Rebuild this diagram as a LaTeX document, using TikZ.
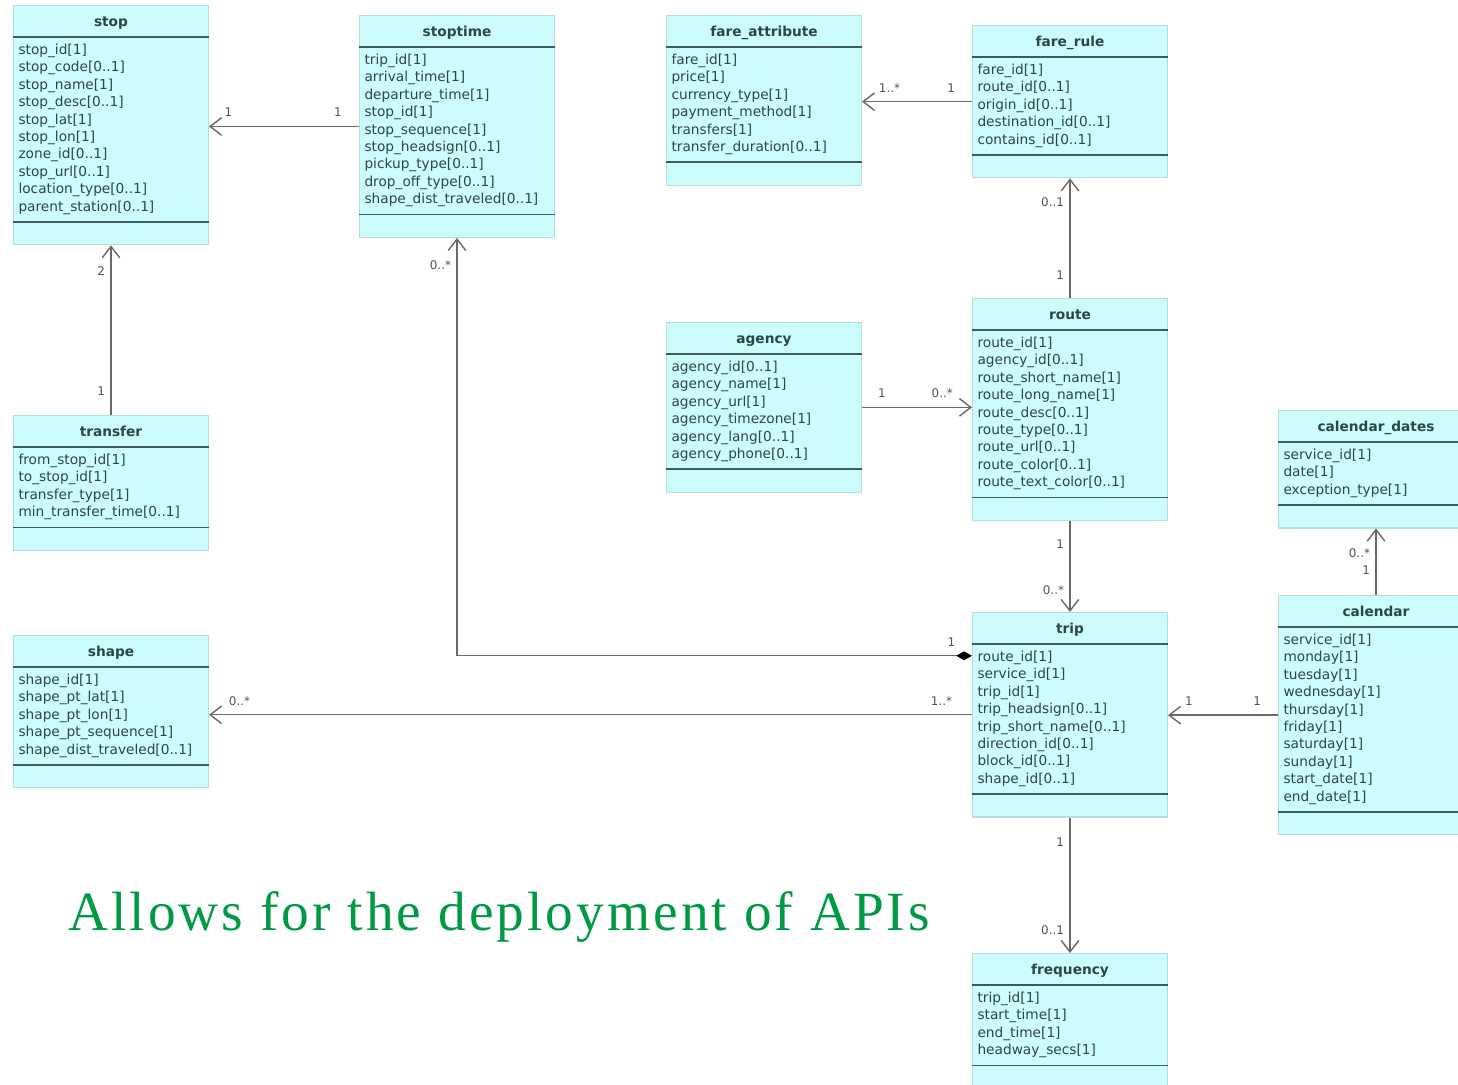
\documentclass[tikz,border=0pt]{standalone}
\usepackage{fontspec}
\setmainfont{DejaVu Sans}
\newfontfamily\bannerfont[LetterSpace=5.5]{Liberation Serif}
\usetikzlibrary{shapes.multipart,arrows.meta}

\definecolor{clsfill}{RGB}{204,252,252}
\definecolor{clsedge}{RGB}{178,222,222}
\definecolor{clsrule}{RGB}{62,92,92}
\definecolor{clstext}{RGB}{44,70,72}
\definecolor{linkgray}{RGB}{105,105,105}
\definecolor{bannergreen}{RGB}{0,153,68}

\newcommand{\ttl}[1]{\makebox[3.7cm][c]{\rule[-2.6pt]{0pt}{11.5pt}\textbf{#1}}}
\newcommand{\foot}{\rule{0pt}{6.8pt}}

\tikzset{
  cls/.style={rectangle split, rectangle split parts=3, anchor=north west,
    text width=3.7cm, inner xsep=0.1cm, inner ysep=0.1cm, align=left,
    fill=clsfill, draw=clsedge, line width=0.6pt, text=clstext,
    font=\fontsize{7.8}{9.9}\selectfont},
  assoc/.style={draw=linkgray, line width=0.8pt, -{Straight Barb[length=6.5pt,width=10pt]}},
  mult/.style={font=\fontsize{6.8}{8}\selectfont, text=linkgray!80!black, inner sep=1pt},
}

\begin{document}
\begin{tikzpicture}[x=0.02cm, y=-0.02cm]
\clip (0,0) rectangle (1458,1085);
\fill[white] (0,0) rectangle (1458,1085);

% classes
\node[cls] (stop) at (13,5) {\ttl{stop}
  \nodepart{second}\strut stop\_id[1]\\stop\_code[0..1]\\stop\_name[1]\\stop\_desc[0..1]\\stop\_lat[1]\\stop\_lon[1]\\zone\_id[0..1]\\stop\_url[0..1]\\location\_type[0..1]\\parent\_station[0..1]\strut
  \nodepart{third}\foot};
\node[cls] (stoptime) at (359,15) {\ttl{stoptime}
  \nodepart{second}\strut trip\_id[1]\\arrival\_time[1]\\departure\_time[1]\\stop\_id[1]\\stop\_sequence[1]\\stop\_headsign[0..1]\\pickup\_type[0..1]\\drop\_off\_type[0..1]\\shape\_dist\_traveled[0..1]\strut
  \nodepart{third}\foot};
\node[cls] (fareattr) at (666,15) {\ttl{fare\_attribute}
  \nodepart{second}\strut fare\_id[1]\\price[1]\\currency\_type[1]\\payment\_method[1]\\transfers[1]\\transfer\_duration[0..1]\strut
  \nodepart{third}\foot};
\node[cls] (farerule) at (972,25) {\ttl{fare\_rule}
  \nodepart{second}\strut fare\_id[1]\\route\_id[0..1]\\origin\_id[0..1]\\destination\_id[0..1]\\contains\_id[0..1]\strut
  \nodepart{third}\foot};
\node[cls] (agency) at (666,322) {\ttl{agency}
  \nodepart{second}\strut agency\_id[0..1]\\agency\_name[1]\\agency\_url[1]\\agency\_timezone[1]\\agency\_lang[0..1]\\agency\_phone[0..1]\strut
  \nodepart{third}\foot};
\node[cls] (route) at (972,298) {\ttl{route}
  \nodepart{second}\strut route\_id[1]\\agency\_id[0..1]\\route\_short\_name[1]\\route\_long\_name[1]\\route\_desc[0..1]\\route\_type[0..1]\\route\_url[0..1]\\route\_color[0..1]\\route\_text\_color[0..1]\strut
  \nodepart{third}\foot};
\node[cls] (caldates) at (1278,410) {\ttl{calendar\_dates}
  \nodepart{second}\strut service\_id[1]\\date[1]\\exception\_type[1]\strut
  \nodepart{third}\foot};
\node[cls] (transfer) at (13,415) {\ttl{transfer}
  \nodepart{second}\strut from\_stop\_id[1]\\to\_stop\_id[1]\\transfer\_type[1]\\min\_transfer\_time[0..1]\strut
  \nodepart{third}\foot};
\node[cls] (trip) at (972,612) {\ttl{trip}
  \nodepart{second}\strut route\_id[1]\\service\_id[1]\\trip\_id[1]\\trip\_headsign[0..1]\\trip\_short\_name[0..1]\\direction\_id[0..1]\\block\_id[0..1]\\shape\_id[0..1]\strut
  \nodepart{third}\foot};
\node[cls] (calendar) at (1278,595) {\ttl{calendar}
  \nodepart{second}\strut service\_id[1]\\monday[1]\\tuesday[1]\\wednesday[1]\\thursday[1]\\friday[1]\\saturday[1]\\sunday[1]\\start\_date[1]\\end\_date[1]\strut
  \nodepart{third}\foot};
\node[cls] (shape) at (13,635) {\ttl{shape}
  \nodepart{second}\strut shape\_id[1]\\shape\_pt\_lat[1]\\shape\_pt\_lon[1]\\shape\_pt\_sequence[1]\\shape\_dist\_traveled[0..1]\strut
  \nodepart{third}\foot};
\node[cls] (frequency) at (972,953) {\ttl{frequency}
  \nodepart{second}\strut trip\_id[1]\\start\_time[1]\\end\_time[1]\\headway\_secs[1]\strut
  \nodepart{third}\foot};

\foreach \c in {stop,stoptime,fareattr,farerule,agency,route,caldates,transfer,trip,calendar,shape,frequency}
  \draw[clsrule, line width=1pt] (\c.text split west) -- (\c.text split east)
    (\c.second split west) -- (\c.second split east);

% associations
\foreach \from/\to/\pa/\la/\pb/\lb in {stoptime.west/stop.east/.14/1/.87/1,
    trip.west/shape.east/.04/1..*/.96/0..*,
    farerule.west/fareattr.east/.19/1/.75/1..*,
    agency.east/route.west/.18/1/.73/0..*,
    calendar.west/trip.east/.19/1/.81/1}
  \draw[assoc] (\from) -- (\from -| \to) node[mult,pos=\pa,above=4pt]{\la} node[mult,pos=\pb,above=4pt]{\lb};

\foreach \from/\to/\pa/\la/\pb/\lb in {transfer.north/stop.south/.14/1/.85/2,
    route.north/farerule.south/.19/1/.80/0..1,
    route.south/trip.north/.26/1/.76/0..*,
    calendar.north/caldates.south/.37/1/.63/0..*,
    trip.south/frequency.north/.18/1/.83/0..1}
  \draw[assoc] (\from) -- (\from |- \to) node[mult,pos=\pa,left=2pt]{\la} node[mult,pos=\pb,left=2pt]{\lb};

\draw[assoc, {Turned Square[length=9pt,width=5pt,color=black]}-{Straight Barb[length=6.5pt,width=10pt]}]
  ([yshift=-0.24cm]trip.text split west) -| (stoptime.south)
  node[mult,pos=0.02,above=4pt]{1} node[mult,pos=0.968,left=2pt]{0..*};

\node[anchor=base west, inner sep=0, text=bannergreen,
  font=\bannerfont\fontsize{31.5}{36}\selectfont] (banner) at (68,930)
  {Allows for the deployment of APIs};

\end{tikzpicture}
\end{document}
